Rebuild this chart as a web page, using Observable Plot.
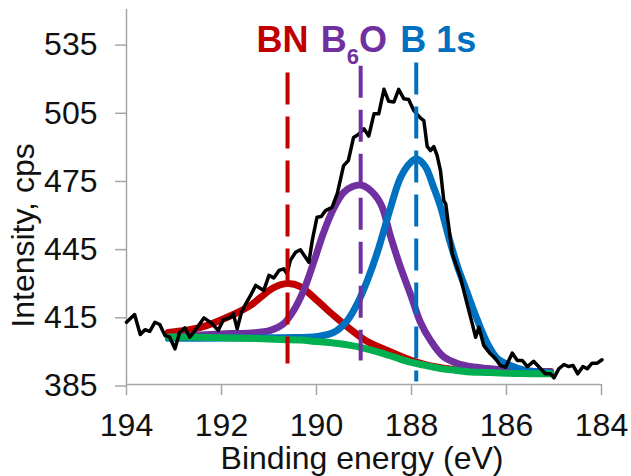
<!DOCTYPE html>
<html><head><meta charset="utf-8">
<script src="https://cdn.jsdelivr.net/npm/d3@7"></script>
<script src="https://cdn.jsdelivr.net/npm/@observablehq/plot@0.6"></script>
<style>
html,body{margin:0;padding:0;background:#fff;}
#chart svg{display:block;}
</style></head><body><div id="chart"></div>
<script>
// Measured spectrum (black)
const rawEnergy = [194.00,193.83,193.71,193.61,193.51,193.40,193.30,193.19,193.09,192.98,
192.88,192.77,192.67,192.53,192.37,192.21,192.07,191.96,191.83,191.75,
191.67,191.58,191.49,191.37,191.28,191.11,191.00,190.90,190.79,190.69,
190.62,190.55,190.44,190.34,190.16,190.09,189.99,189.90,189.81,189.67,
189.56,189.43,189.33,189.22,189.12,189.00,188.90,188.79,188.69,188.58,
188.48,188.37,188.27,188.16,188.06,187.95,187.81,187.74,187.67,187.60,
187.53,187.46,187.39,187.32,187.28,187.14,186.97,186.83,186.72,186.65,
186.58,186.48,186.34,186.23,186.13,186.02,185.88,185.77,185.67,185.56,
185.43,185.28,185.18,185.07,185.00,184.90,184.79,184.69,184.60,184.50,
184.39,184.30,184.20,184.09,183.99];
const rawCps = [412.4,415.8,407.0,409.1,408.4,412.4,411.4,406.6,405.8,400.7,
408.0,409.9,405.8,409.5,414.3,412.0,408.8,413.5,414.3,416.1,
409.5,416.8,420.5,424.9,428.6,426.4,433.0,431.9,435.2,435.9,
433.7,439.6,443.2,444.3,438.8,448.3,458.6,458.9,461.5,463.0,
469.2,481.3,483.5,493.7,495.0,497.5,494.3,504.1,504.1,514.9,
509.6,509.3,514.9,510.7,510.4,505.5,502.2,501.1,489.8,487.9,
489.7,485.7,479.1,465.9,464.5,442.5,432.2,420.5,411.7,405.8,
410.2,402.2,398.5,396.3,393.4,392.6,398.8,395.6,395.6,392.9,
395.2,391.9,389.7,389.7,387.9,391.9,393.8,392.9,393.4,389.7,
392.9,391.9,394.4,394.4,395.9];

// Background (green)
const bgEnergy = [193.12,192.44,191.81,191.26,190.76,190.34,189.99,189.64,189.28,189.07,188.82,188.59,188.34,188.02,187.71,187.39,187.05,186.76,186.44,186.13,185.71,185.07];
const bgCps = [405.9,405.8,405.5,405.2,404.8,404.6,403.9,403.3,402.2,401.3,400.0,398.6,396.9,394.8,393.4,392.0,391.2,390.5,390.3,390.1,389.8,389.7];

// BN component (red)
const bnEnergy = [193.12,192.44,191.75,191.39,191.18,190.91,190.61,190.34,189.99,189.64,189.28,188.93,188.51,188.02,187.54,187.03,186.55,185.92,185.07];
const bnCps = [407.9,410.1,415.8,419.8,423.3,427.5,429.4,428.1,422.0,415.4,409.2,403.9,400.0,395.8,392.9,391.4,390.7,390.5,390.7];

// B6O component (purple)
const b6oEnergy = [193.12,192.44,191.81,191.39,190.97,190.69,190.48,190.27,190.06,189.85,189.64,189.43,189.24,189.07,188.91,188.65,188.44,188.23,188.02,187.81,187.60,187.33,187.03,186.76,186.40,185.92,185.07];
const b6oCps = [405.7,406.8,407.4,407.7,408.8,411.8,417.6,426.4,438.7,451.9,462.4,469.5,472.1,472.8,471.2,464.6,450.1,436.5,424.6,412.3,404.4,397.3,394.2,392.9,392.0,391.2,390.5];

// B 1s component (blue)
const b1sEnergy = [193.12,192.44,191.39,190.69,189.98,189.64,189.35,189.14,188.93,188.72,188.44,188.23,188.02,187.89,187.71,187.54,187.39,187.22,187.03,186.82,186.61,186.40,186.19,185.92,185.64,185.28,185.07];
const b1sCps = [405.3,405.4,405.5,405.6,406.1,407.9,413.2,420.6,430.8,443.1,462.9,476.1,482.7,484.2,480.9,472.1,463.3,450.1,436.9,425.0,413.2,403.0,396.4,393.4,391.4,390.5,390.3];

// Peak markers
const peakNames = ["BN", "B6O", "B 1s"];
const peakEnergy = [190.61, 189.07, 187.90];
const peakTop = [522.3, 525.3, 526.7];
const peakBottom = [394.2, 395.6, 386.3];

const xTicks = [194, 192, 190, 188, 186, 184];
const yTicks = [385, 415, 445, 475, 505, 535];

const colors = {bn: "#C00000", b6o: "#7030A0", b1s: "#0070C0", bg: "#00B050", raw: "#000000"};
const peakColors = [colors.bn, colors.b6o, colors.b1s];
const labelDx = [-31, -40, -16];

const toRows = (xs, ys) => xs.map((x, i) => ({x, y: ys[i]}));
const raw = toRows(rawEnergy, rawCps);
const bg = toRows(bgEnergy, bgCps);
const bn = toRows(bnEnergy, bnCps);
const b6o = toRows(b6oEnergy, b6oCps);
const b1s = toRows(b1sEnergy, b1sCps);
const peaks = peakNames.map((name, i) => ({name, e: peakEnergy[i], top: peakTop[i], bottom: peakBottom[i], color: peakColors[i]}));

const FONT = "Liberation Sans, Arial, Helvetica, sans-serif";
const AXIS = "#a6a6a6";

const chart = Plot.plot({
  width: 631,
  height: 476,
  marginLeft: 126,
  marginRight: 30,
  marginTop: 9,
  marginBottom: 92,
  style: {fontFamily: FONT, background: "white", color: "#000"},
  x: {domain: [194, 184], label: null},
  y: {domain: [385, 550], label: null},
  color: {type: "identity"},
  marks: [
    Plot.axisX({ticks: xTicks, tickSize: 11, tickPadding: 18, fontSize: 32, stroke: AXIS, fill: "#111", strokeWidth: 1.5, label: null, tickFormat: d => String(d)}),
    Plot.axisY({ticks: yTicks, tickSize: 11, tickPadding: 18, fontSize: 32, stroke: AXIS, fill: "#111", strokeWidth: 1.5, label: null, dy: 1.5, tickFormat: d => String(d)}),
    Plot.ruleY([385], {stroke: AXIS, strokeWidth: 1.5}),
    Plot.ruleX([194], {stroke: AXIS, strokeWidth: 1.5}),
    Plot.line(bn, {x: "x", y: "y", stroke: colors.bn, strokeWidth: 7, curve: "catmull-rom"}),
    Plot.line(b6o, {x: "x", y: "y", stroke: colors.b6o, strokeWidth: 7, curve: "catmull-rom"}),
    Plot.line(b1s, {x: "x", y: "y", stroke: colors.b1s, strokeWidth: 7, curve: "catmull-rom"}),
    Plot.line(bg, {x: "x", y: "y", stroke: colors.bg, strokeWidth: 7, curve: "catmull-rom"}),
    Plot.line(raw, {x: "x", y: "y", stroke: colors.raw, strokeWidth: 3.5, strokeLinejoin: "round"}),
    Plot.link(peaks, {x1: "e", x2: "e", y1: "top", y2: "bottom", stroke: "color", strokeWidth: 4, strokeDasharray: "32,12"}),
    ...peaks.map((p, i) => Plot.text([p], {x: "e", text: "name", fill: "color", frameAnchor: "top", textAnchor: "start", lineAnchor: "bottom", dy: 42, dx: labelDx[i], fontSize: 36, fontWeight: "bold", fontFamily: FONT})),
    Plot.text(["Binding energy (eV)"], {text: d => d, frameAnchor: "bottom", textAnchor: "middle", lineAnchor: "bottom", dy: 84, dx: -2, fontSize: 32, fontFamily: FONT, fill: "#111"}),
    Plot.text(["Intensity, cps"], {text: d => d, frameAnchor: "left", textAnchor: "middle", rotate: -90, lineAnchor: "bottom", dx: -93, dy: 38.5, fontSize: 32, fontFamily: FONT, fill: "#111"})
  ]
});

// Subscript the 6 in B6O
chart.querySelectorAll("text").forEach(t => {
  if (t.textContent === "B6O") {
    const ns = "http://www.w3.org/2000/svg";
    t.textContent = "";
    const a = document.createElementNS(ns, "tspan"); a.textContent = "B";
    const b = document.createElementNS(ns, "tspan"); b.textContent = "6"; b.setAttribute("dy", "12"); b.setAttribute("font-size", "22");
    const c = document.createElementNS(ns, "tspan"); c.textContent = "O"; c.setAttribute("dy", "-12");
    t.append(a, b, c);
  }
});

document.getElementById("chart").append(chart);
</script>
</body></html>
